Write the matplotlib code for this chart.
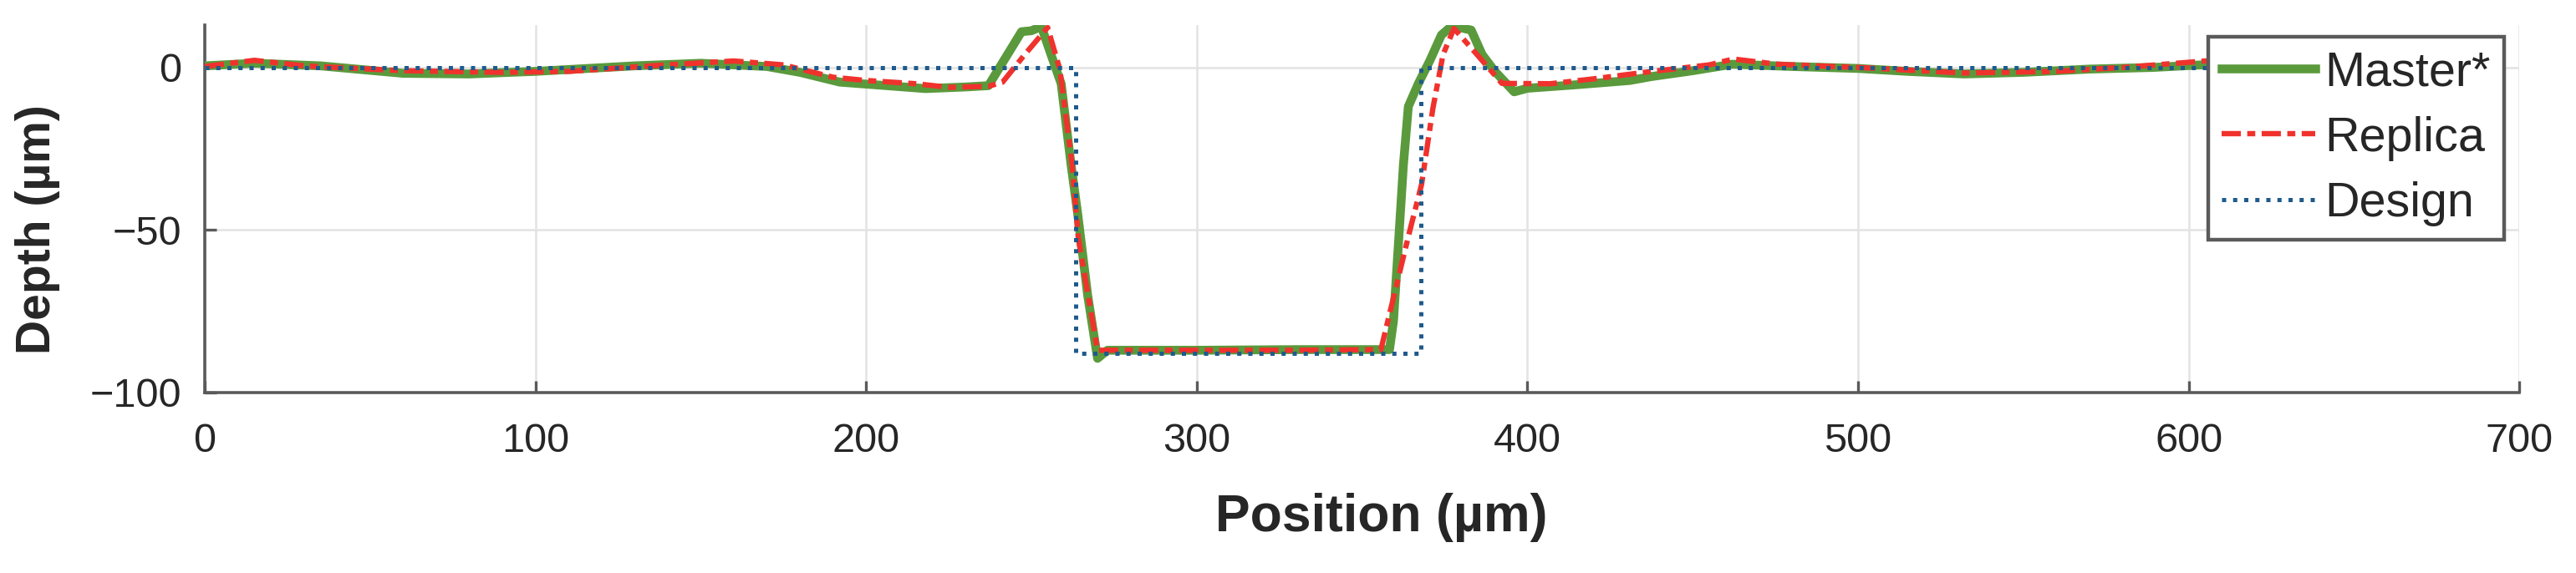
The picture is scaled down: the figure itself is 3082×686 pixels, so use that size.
import matplotlib
matplotlib.use("Agg")
import matplotlib.pyplot as plt

plt.rcParams['font.family'] = ['Liberation Sans', 'DejaVu Sans']

# ---- data ----
master_x = [0, 15, 35, 60, 80, 100, 130, 150, 170, 180, 192, 205, 218, 230, 237,
            247, 250, 253, 256.6, 259, 262, 264, 267, 270, 273, 300, 330, 358.3,
            359.5, 361.1, 362.5, 364, 367, 370.5, 374, 377.2, 383, 386.3, 390, 396,
            400, 415, 431, 437.5, 450, 462, 480, 500, 515, 532, 550, 570, 589, 604, 640]
master_y = [0.5, 1.3, 0.5, -1.8, -2.0, -1.2, 0.5, 1.3, 0.3, -1.5, -4.5, -5.5, -6.5, -6.0, -5.6,
            11.0, 11.3, 12.6, 2.0, -5.0, -30.0, -45.0, -70.0, -89.5, -87.0, -87.0, -86.8, -86.8,
            -78.0, -52.7, -30.0, -12.0, -5.0, 2.1, 10.0, 12.8, 11.5, 4.0, -1.0, -7.5,
            -6.4, -5.3, -4.0, -2.8, -1.0, 1.0, 0.3, -0.3, -1.2, -2.0, -1.5, -0.5, 0.0, 0.8, 0.8]

replica_x = [0, 15, 30, 60, 90, 110, 135, 160, 175, 190, 200, 215, 225, 237, 241.3,
             248, 254.9, 258.6, 262.3, 264.2, 270, 300, 330, 355.7, 359.7, 364, 368,
             371.4, 374.5, 377.8, 385, 392.3, 407, 420, 437, 455, 462.3, 475.6, 500,
             532, 560, 580, 605, 640]
replica_y = [0.3, 2.2, 0.5, -1.0, -1.5, -1.2, 0.5, 2.0, 0.8, -3.0, -4.0, -5.0, -6.1, -5.8, -4.5,
             4.0, 12.3, -0.6, -29.7, -52.7, -87.0, -87.0, -87.0, -86.8, -70.0, -52.0, -36.0,
             -12.7, 4.0, 12.0, 3.7, -4.9, -5.0, -3.5, -1.3, 0.8, 2.6, 1.0, 0.0,
             -1.7, -1.2, 0.0, 2.0, 1.5]

design_x = [0, 263.5, 263.5, 367.8, 367.8, 640]
design_y = [0, 0, -88, -88, 0, 0]

series_labels = ["Master*", "Replica", "Design"]
x_ticks = [0, 100, 200, 300, 400, 500, 600, 700]
y_ticks = [-100, -50, 0]

# ---- figure ----
fig = plt.figure(figsize=(15.41, 3.43), dpi=200)
ax = fig.add_axes([0.0795, 0.315, 0.8985, 0.641])

ax.plot(master_x, master_y, color='#5A9A3C', lw=3.8, label=series_labels[0],
        solid_joinstyle='round', zorder=3)
ax.plot(replica_x, replica_y, color='#F0322D', lw=2.3, label=series_labels[1],
        dashes=[3.6, 1.2, 1.5, 1.2], zorder=4)
ax.plot(design_x, design_y, color='#1F5A8C', lw=1.8, ls=':', label=series_labels[2], zorder=5)

ax.set_xlim(0, 700)
ax.set_ylim(-100, 13)
ax.set_xticks(x_ticks)
ax.set_yticks(y_ticks)
ax.set_yticklabels(['\u2212100', '\u221250', '0'])

ax.grid(True, color='#e3e3e3', lw=0.9)
ax.set_axisbelow(True)
for s in ['top', 'right']:
    ax.spines[s].set_visible(False)
for s in ['left', 'bottom']:
    ax.spines[s].set_color('#5a5a5a')
    ax.spines[s].set_linewidth(1.3)

ax.tick_params(direction='in', length=5, width=1.2, color='#5a5a5a',
               labelsize=17.5, labelcolor='#262626')
ax.tick_params(axis='x', pad=13)
ax.tick_params(axis='y', pad=10)

ax.set_xlabel('Position (\u00b5m)', fontsize=22.5, fontweight='bold', color='#262626')
ax.set_ylabel('Depth (\u00b5m)', fontsize=20.5, fontweight='bold', color='#262626')
ax.xaxis.set_label_coords(0.5085, -0.272)
ax.yaxis.set_label_coords(-0.0625, 0.444)

leg = ax.legend(loc='upper right', bbox_to_anchor=(0.9935, 0.968), borderaxespad=0,
                fontsize=20.7, frameon=True, fancybox=False, edgecolor='#5a5a5a',
                framealpha=1, handlelength=1.95, handletextpad=0.2, labelspacing=0.42,
                borderpad=0.28)
leg.get_frame().set_linewidth(1.6)
for t in leg.get_texts():
    t.set_color('#262626')

fig.savefig('out.png', dpi=200)
